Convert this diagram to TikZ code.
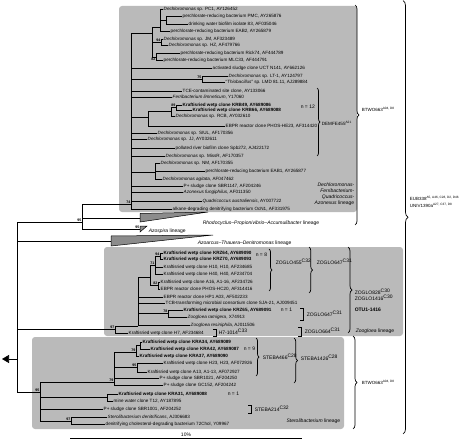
\documentclass[tikz,border=0pt]{standalone}
\usepackage{fontspec}
\setmainfont{Liberation Sans}
\usetikzlibrary{positioning,arrows.meta,decorations.pathreplacing}

\begin{document}
\begin{tikzpicture}
[x=1pt,y=-1pt,line width=0.6pt,
leaf/.style={anchor=west,inner sep=0.4pt,font=\fontsize{4.6}{5}\selectfont},
kw/.style={leaf,font=\fontsize{4.6}{5}\selectfont\bfseries},
bs/.style={font=\fontsize{3.6}{4}\selectfont\bfseries,inner sep=0.3pt,label distance=0pt},
grp/.style={anchor=west,inner sep=0.5pt,font=\fontsize{5}{6}\selectfont},
lin/.style={inner sep=0.5pt,font=\fontsize{5}{5.8}\selectfont},
clade/.style={fill=black!27,draw=none,rounded corners=3pt},
wedge/.style={fill=black!45,draw=black,line width=0.5pt},
crl/.style={decorate,decoration={brace,amplitude=#1},line width=0.7pt},
sq/.style={line width=0.6pt}]
\useasboundingbox (0,0) rectangle (474,444);
\path[clade] (119,6) rectangle (357,212);
\path[clade] (104,247) rectangle (403,336);
\path[clade] (32,337) rectangle (344,429);

\coordinate (root) at (17,359);
\coordinate (tip) at (2,359);
\draw[-{Triangle[length=7pt,width=8pt]}] (root) -- (tip);
\coordinate[label={[bs]above left:95}] (r95) at (82,222);
\coordinate[label={[bs]above left:74}] (dA) at (131,204);
\coordinate (a0) at (152,33);
\coordinate (a1) at (160,27);
\coordinate (a1b) at (166,20);
\coordinate[label={[bs]above left:94}] (a2) at (161,42);
\coordinate[label={[bs]below left:82}] (a3) at (156,57);
\coordinate[label={[bs]above left:75}] (a4) at (202,79);
\coordinate (b0) at (148,117);
\coordinate (b1) at (171,111);
\coordinate[label={[bs]above left:89}] (b2) at (176,107.5);
\coordinate (c0) at (155,172);
\coordinate (rho) at (140,218.5);
\coordinate[label={[bs]above left:95}] (azo) at (140,229);
\coordinate (azt) at (111,241);

\node[leaf] (t1) at (163,9) {\textit{Dechloromonas} sp. PC1, AY126452};
\node[leaf] (t2) at (182,16) {perchlorate-reducing bacterium PMC, AY265876};
\node[leaf] (t3) at (188,24) {drinking water biofilm isolate 83, AF035046};
\node[leaf] (t4) at (170,31) {perchlorate-reducing bacterium EAB2, AY265879};
\node[leaf] (t5) at (163,39) {\textit{Dechloromonas} sp. JM, AF323489};
\node[leaf] (t6) at (168,45) {\textit{Dechloromonas} sp. HZ, AF479766};
\node[leaf] (t7) at (180,53) {perchlorate-reducing bacterium Rick74, AF444789};
\node[leaf] (t8) at (163,60) {perchlorate-reducing bacterium MLC33, AF444791};
\node[leaf] (t9) at (212,68) {activated sludge clone UCT N141, AY662126};
\node[leaf] (t10) at (228,76) {\textit{Dechloromonas} sp. LT-1, AY124797};
\node[leaf] (t11) at (225,82) {“\textit{Thiobacillus}” sp. LMD 81.11, AJ289884};
\node[leaf] (t12) at (182,91) {TCE-contaminated site clone, AY133066};
\node[leaf] (t13) at (172,97) {\textit{Ferribacterium limneticum}, Y17060};
\node[kw] (t14) at (182,105) {Kraftisried wetp clone KRB49, AY689086};
\node[kw] (t15) at (192,110) {Kraftisried wetp clone KRB66, AY689088};
\node[leaf] (t16) at (175,116) {\textit{Dechloromonas} sp. RCB, AY032610};
\node[leaf] (t17) at (225,126) {EBPR reactor clone PHOS-HE23, AF314420};
\node[leaf] (t18) at (157,133) {\textit{Dechloromonas} sp. SIUL, AF170356};
\node[leaf] (t19) at (147,139) {\textit{Dechloromonas} sp. JJ, AY032611};
\node[leaf] (t20) at (175,148) {polluted river biofilm clone Spb272, AJ422172};
\node[leaf] (t21) at (165,156) {\textit{Dechloromonas} sp. MissR, AF170357};
\node[leaf] (t22) at (160,163) {\textit{Dechloromonas} sp. NM, AF170355};
\node[leaf] (t23) at (205,171) {perchlorate-reducing bacterium EAB1, AY265877};
\node[leaf] (t24) at (162,179) {\textit{Dechloromonas agitata}, AF047462};
\node[leaf] (t25) at (183,186) {P+ sludge clone SBR1147, AF204246};
\node[leaf] (t26) at (183,192) {\textit{Azonexus fungiphilus}, AF011350};
\node[leaf] (t27) at (202,201) {\textit{Quadricoccus australiensis}, AY007722};
\node[leaf] (t28) at (172,209) {alkane-degrading denitrifying bacterium OcN1, AF331975};

\draw (root) |- (r95) (r95) |- (dA) (r95) |- (rho) (r95) |- (azo) (root) |- (azt);
\draw (dA) |- (a0) (dA) |- (t9) (dA) |- (a4) (dA) |- (t12) (dA) |- (t13) (dA) |- (b0)
  (dA) |- (t18) (dA) |- (t19) (dA) |- (t20) (dA) |- (t21) (dA) |- (c0)
  (dA) |- (t25) (dA) |- (t26) (dA) |- (t27) (dA) |- (t28);
\draw (a0) |- (a1) (a0) |- (a2) (a0) |- (a3) (a1) |- (t1) (a1) |- (a1b) (a1) |- (t4)
  (a1b) |- (t2) (a1b) |- (t3) (a2) |- (t5) (a2) |- (t6) (a3) |- (t7) (a3) |- (t8)
  (a4) |- (t10) (a4) |- (t11) (b0) |- (b1) (b0) |- (t17) (b1) |- (b2) (b1) |- (t16)
  (b2) |- (t14) (b2) |- (t15) (c0) |- (t22) (c0) |- (t23) (c0) |- (t24);

\path[wedge] (rho) ++(0,-5) -- ++(68,-1.5) -- ++(-68,10) -- cycle;
\path[wedge] (azo) ++(0,-3) -- ++(7,0) -- ++(-7,6) -- cycle;
\path[wedge] (azt) ++(0,-5) -- ++(102,-1) -- ++(-102,11) -- cycle;
\node[lin,anchor=west] (rhol) at (202,223) {\textit{Rhodocyclus–Propionivibrio–Accumulibacter} lineage};
\node[lin,anchor=west] (azol) at (148,231) {\textit{Azospira} lineage};
\node[lin,anchor=west] (aztl) at (197,243) {\textit{Azoarcus–Thauera–Denitromonas} lineage};
\node[lin,align=right,anchor=south east] (dlin) at (355,206) {\textit{Dechloromonas}-\\\textit{Ferribacterium}-\\\textit{Quadricoccus}-\\\textit{Azonexus} lineage};
\node[grp] (n12) at (300,107) {n = 12};
\draw[crl=3pt] (317,88) -- (317,156);
\node[grp,font=\fontsize{4.6}{5.5}\selectfont] (demfe) at (321,123) {DEMFE455\textsuperscript{A21}};

\coordinate[label={[bs]above left:97}] (zr) at (115,329);
\coordinate (z1) at (138,326);
\coordinate (zc) at (150,277);
\coordinate[label={[bs]above left:71}] (zc1) at (155,265);
\coordinate[label={[bs]above left:94}] (zp) at (160,256);
\coordinate[label={[bs]above left:82}] (zc2) at (158,285);
\coordinate[label={[bs]above left:78}] (zz) at (168,313);
\node[kw] (z01) at (163,253) {Kraftisried wetp clone KRZ64, AY689090};
\node[kw] (z02) at (163,259) {Kraftisried wetp clone KRZ70, AY689093};
\node[leaf] (z03) at (163,267) {Kraftisried wetp clone H10, H10, AF234685};
\node[leaf] (z04) at (163,274) {Kraftisried wetp clone H40, H40, AF234704};
\node[leaf] (z05) at (160,282) {Kraftisried wetp clone A16, A1-16, AF234726};
\node[leaf] (z06) at (160,289) {EBPR reactor clone PHOS-HC20, AF314416};
\node[leaf] (z07) at (163,297) {EBPR reactor clone HP1 A03, AF502233};
\node[leaf] (z08) at (165,303) {TCB-transforming microbial consortium clone SJA-21, AJ009451};
\node[kw] (z09) at (183,310) {Kraftisried wetp clone KRZ65, AY689091};
\node[leaf] (z10) at (187,317) {\textit{Zoogloea ramigera}, X74913};
\node[leaf] (z11) at (190,325) {\textit{Zoogloea resiniphila}, AJ011506};
\node[leaf] (z12) at (128,333) {Kraftisried wetp clone H7, AF234684};
\draw (root) |- (zr) (zr) |- (z1) (zr) |- (z12) (z1) |- (zc) (z1) |- (z07) (z1) |- (z08)
  (z1) |- (zz) (z1) |- (z11) (zc) |- (zc1) (zc) |- (zc2) (zc1) |- (zp) (zc1) |- (z03)
  (zc1) |- (z04) (zp) |- (z01) (zp) |- (z02) (zc2) |- (z05) (zc2) |- (z06)
  (zz) |- (z09) (zz) |- (z10);
\node[grp] (n8) at (255,255) {n = 8};
\draw[crl=3pt] (269,249) -- (269,291);
\node[grp] (zg455) at (275,262) {ZOGLO455\textsuperscript{C32}};
\draw[crl=3.5pt] (309,247) -- (309,293);
\node[grp] (zg647a) at (316,262) {ZOGLO647\textsuperscript{C31}};
\node[grp] (n1z) at (280,310) {n = 1};
\draw[sq] (300,308) -- (303,308) -- (303,320) -- (300,320);
\node[grp] (zg647b) at (306,314) {ZOGLO647\textsuperscript{C31}};
\draw[sq] (213,329) -- (216,329) -- (216,336) -- (213,336);
\node[grp] (h7) at (218,332) {H7-1014\textsuperscript{C33}};
\draw[sq] (298,327) -- (301,327) -- (301,336) -- (298,336);
\node[grp] (zg664) at (304,331) {ZOGLO664\textsuperscript{C31}};
\draw[crl=4pt] (348,247) -- (348,333);
\node[grp] (zg828) at (354,292) {ZOGLO828\textsuperscript{C30}};
\node[grp] (zg1416) at (354,298) {ZOGLO1416\textsuperscript{C30}};
\node[grp,font=\fontsize{5}{6}\selectfont\bfseries] (otu) at (354,310) {OTU1-1416};
\node[lin,anchor=west] (zlin) at (355,331) {\textit{Zoogloea} lineage};

\coordinate[label={[bs]above left:95}] (sr) at (40,392);
\coordinate[label={[bs]above left:79}] (s1) at (114,382);
\coordinate[label={[bs]above left:79}] (s1a) at (136,352);
\coordinate (sp) at (140,345.5);
\coordinate[label={[bs]above left:95}] (s1b) at (137,367);
\coordinate (s2) at (107,397);
\coordinate[label={[bs]above left:97}] (s3) at (71,421);
\node[kw] (s01) at (142,342) {Kraftisried wetp clone KRA34, AY689089};
\node[kw] (s02) at (150,349) {Kraftisried wetp clone KRA42, AY689087};
\node[kw] (s03) at (139,356) {Kraftisried wetp clone KRA37, AY689090};
\node[leaf] (s04) at (163,363) {Kraftisried wetp clone H23, H23, AF072926};
\node[leaf] (s05) at (147,372) {Kraftisried wetp clone A13, A1-13, AF072927};
\node[leaf] (s06) at (159,378) {P+ sludge clone SBR1021, AF204250};
\node[leaf] (s07) at (163,385) {P+ sludge clone GC152, AF204242};
\node[kw] (s08) at (118,394) {Kraftisried wetp clone KRA31, AY689088};
\node[leaf] (s09) at (113,401) {mine water clone T12, AY187895};
\node[leaf] (s10) at (103,409) {P+ sludge clone SBR1001, AF204252};
\node[leaf] (s11) at (107,417) {\textit{Sterolibacterium denitrificans}, AJ306683};
\node[leaf] (s12) at (105,424) {denitrifying cholesterol-degrading bacterium 72Chol, Y09967};
\draw (root) |- (sr) (sr) |- (s1) (sr) |- (s2) (sr) |- (s10) (sr) |- (s3)
  (s1) |- (s1a) (s1) |- (s1b) (s1) |- (s06) (s1) |- (s07) (s1a) |- (sp) (s1a) |- (s03)
  (sp) |- (s01) (sp) |- (s02) (s1b) |- (s04) (s1b) |- (s05) (s2) |- (s08) (s2) |- (s09)
  (s3) |- (s11) (s3) |- (s12);
\node[grp] (n9) at (243,349) {n = 9};
\draw[crl=3pt] (256,338) -- (256,376);
\node[grp] (st466) at (262,357) {STEBA466\textsuperscript{C28}};
\draw[crl=3.5pt] (294,338) -- (294,383);
\node[grp] (st1426) at (300,358) {STEBA1426\textsuperscript{C28}};
\node[grp] (n1s) at (227,394) {n = 1};
\draw[sq] (248,405) -- (251,405) -- (251,413) -- (248,413);
\node[grp] (st214) at (254,409) {STEBA214\textsuperscript{C32}};
\node[lin,anchor=east] (slin) at (341,421) {\textit{Sterolibacterium} lineage};

\draw[crl=4pt] (355,5) -- (355,225);
\node[grp,font=\fontsize{4.5}{5.5}\selectfont] (bt1) at (361,109) {BTWO663\textsuperscript{A04, D8}};
\draw[crl=4pt] (353,336) -- (353,429);
\node[grp,font=\fontsize{4.5}{5.5}\selectfont] (bt2) at (361,382) {BTWO663\textsuperscript{A04, D8}};
\draw[crl=5pt] (403,0.5) -- (403,434);
\node[grp,font=\fontsize{4.5}{5.5}\selectfont] (eub) at (409,198) {EUB338\textsuperscript{A5, A46, C28, D2, D46}};
\node[grp,font=\fontsize{4.5}{5.5}\selectfont] (univ) at (409,205) {UNIV1390a\textsuperscript{A27, C37, D8}};

\coordinate (sb1) at (70,438);
\coordinate (sb2) at (302,438);
\draw (sb1) -- node[lin,above=1pt] (pct) {10\%} (sb2);
\end{tikzpicture}
\end{document}
